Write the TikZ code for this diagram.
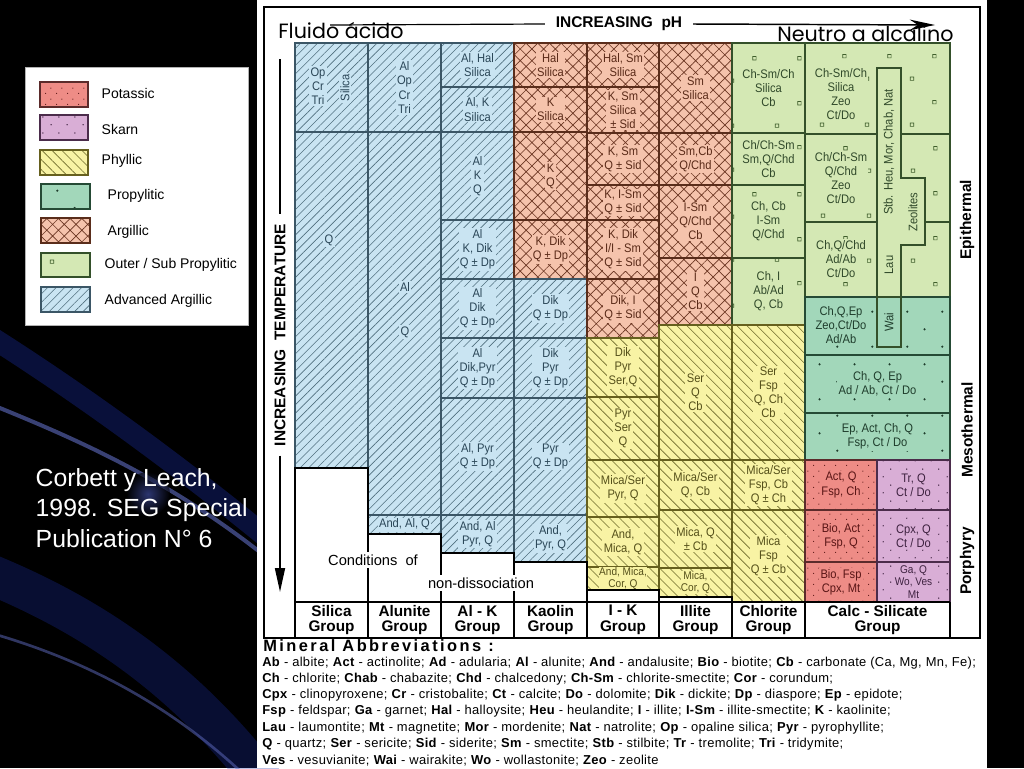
\documentclass[tikz,border=0pt]{standalone}
\usepackage{fontspec}
\setmainfont{Liberation Sans}
\newfontfamily\cellfont[FakeStretch=0.9]{Liberation Sans}
\newfontfamily\slidefont{Poppins}
\newfontfamily\abbrfont[LetterSpace=2.5]{Liberation Sans}
\newfontfamily\headfont[LetterSpace=15]{Liberation Sans}
\usetikzlibrary{patterns,patterns.meta,arrows.meta}

\definecolor{aaFill}{HTML}{C9E4F2}\definecolor{aaHatch}{HTML}{50707F}
\definecolor{aaLine}{HTML}{3B5666}\definecolor{aaText}{HTML}{2A4657}
\definecolor{arFill}{HTML}{F5C3AC}\definecolor{arHatch}{HTML}{6B3522}
\definecolor{arLine}{HTML}{5A2D1B}\definecolor{arText}{HTML}{5A2A18}
\definecolor{phFill}{HTML}{F8F3A4}\definecolor{phHatch}{HTML}{6E6A2A}
\definecolor{phLine}{HTML}{66601E}\definecolor{phText}{HTML}{55501A}
\definecolor{opFill}{HTML}{D4E8B4}\definecolor{opMark}{HTML}{3F5F2C}
\definecolor{opLine}{HTML}{34502A}\definecolor{opText}{HTML}{30492A}
\definecolor{prFill}{HTML}{A2D7BA}\definecolor{prMark}{HTML}{1F3D2C}
\definecolor{prLine}{HTML}{254A35}
\definecolor{poFill}{HTML}{EE8C86}\definecolor{poMark}{HTML}{5A1616}
\definecolor{poLine}{HTML}{5B2B2B}
\definecolor{skFill}{HTML}{D9AED6}\definecolor{skMark}{HTML}{3E2240}
\definecolor{skLine}{HTML}{4B2C4B}
\definecolor{streak}{HTML}{1C2FA8}

% marks for the alteration zones
\pgfdeclarepatternformonly{squaremarks}{\pgfqpoint{0pt}{0pt}}{\pgfqpoint{34pt}{34pt}}{\pgfqpoint{34pt}{34pt}}{%
  \pgfsetlinewidth{0.5pt}%
  \pgfpathrectangle{\pgfqpoint{4pt}{5pt}}{\pgfqpoint{2.6pt}{2.6pt}}%
  \pgfpathrectangle{\pgfqpoint{21pt}{22pt}}{\pgfqpoint{2.6pt}{2.6pt}}%
  \pgfusepath{stroke}}
\pgfdeclarepatternformonly{sparsedots}{\pgfqpoint{0pt}{0pt}}{\pgfqpoint{26pt}{26pt}}{\pgfqpoint{26pt}{26pt}}{%
  \pgfpathcircle{\pgfqpoint{4pt}{4pt}}{0.9pt}%
  \pgfpathcircle{\pgfqpoint{17pt}{17pt}}{0.9pt}%
  \pgfusepath{fill}}
\pgfdeclarepatternformonly{densedots}{\pgfqpoint{0pt}{0pt}}{\pgfqpoint{8pt}{8pt}}{\pgfqpoint{8pt}{8pt}}{%
  \pgfpathcircle{\pgfqpoint{2pt}{2pt}}{0.45pt}%
  \pgfpathcircle{\pgfqpoint{6pt}{6pt}}{0.45pt}%
  \pgfusepath{fill}}
\pgfdeclarepatternformonly{middots}{\pgfqpoint{0pt}{0pt}}{\pgfqpoint{12pt}{12pt}}{\pgfqpoint{12pt}{12pt}}{%
  \pgfpathcircle{\pgfqpoint{2.5pt}{2.5pt}}{0.55pt}%
  \pgfpathcircle{\pgfqpoint{8.5pt}{8.5pt}}{0.55pt}%
  \pgfusepath{fill}}

\tikzset{
  zone/.style={line width=1.7pt},
  advarg/.style={zone, draw=aaLine, preaction={fill=aaFill}, pattern={Lines[angle=45,distance=4.5pt,line width=.45pt]}, pattern color=aaHatch},
  argil/.style={zone, draw=arLine, preaction={fill=arFill}, pattern={Hatch[angle=45,distance=6.2pt,line width=.5pt]}, pattern color=arHatch},
  phyl/.style={zone, draw=phLine, preaction={fill=phFill}, pattern={Lines[angle=-45,distance=5.3pt,line width=.45pt]}, pattern color=phHatch},
  outprop/.style={zone, draw=opLine, preaction={fill=opFill}, pattern=squaremarks, pattern color=opMark},
  prop/.style={zone, draw=prLine, preaction={fill=prFill}, pattern=sparsedots, pattern color=prMark},
  potas/.style={zone, draw=poLine, preaction={fill=poFill}, pattern=densedots, pattern color=poMark},
  skarn/.style={zone, draw=skLine, preaction={fill=skFill}, pattern=middots, pattern color=skMark},
  cell txt/.style={font=\cellfont\fontsize{9.3}{10.6}\selectfont, align=center, inner sep=1pt},
  advarg txt/.style={cell txt, text=aaText, fill=aaFill},
  argil txt/.style={cell txt, text=arText, fill=arFill},
  phyl txt/.style={cell txt, text=phText, fill=phFill},
  outprop txt/.style={cell txt, text=opText, fill=opFill},
  prop txt/.style={cell txt, text=prMark, fill=prFill},
  potas txt/.style={cell txt, text=poMark, fill=poFill},
  skarn txt/.style={cell txt, text=skMark, fill=skFill},
  tight/.style={font=\cellfont\fontsize{8.4}{9.2}\selectfont, inner sep=.3pt},
  nondis/.style={fill=white, draw=black, line width=1.7pt},
  hdr/.style={font=\bfseries\fontsize{11.6}{13}\selectfont},
  grp/.style={font=\bfseries\fontsize{11.5}{11.8}\selectfont, align=center, inner sep=1pt},
  keytxt/.style={anchor=west, font=\fontsize{10.5}{12}\selectfont},
  abbr/.style={anchor=west, font=\abbrfont\fontsize{9.7}{11}\selectfont, inner sep=0pt},
}

% zone box with its label in the middle
\newcommand\zonecell[7]{%
  \path[#1] (#2,#3) rectangle (#4,#5);
  \node[#1 txt] (#6) at ({(#2+#4)/2},{(#3+#5)/2}) {#7};}
\newcommand\ab[2]{\textbf{#1} - #2}

\begin{document}
\begin{tikzpicture}[x=0.75pt,y=-0.75pt]
\useasboundingbox (0,0) rectangle (1024,768);

% slide background
\fill[black] (0,0) rectangle (1024,768);
\draw[line width=16pt, streak, opacity=.35] (-20,330) .. controls (60,380) and (160,450) .. (270,540);
\draw[line width=3pt, streak!70!white, opacity=.6] (-20,400) .. controls (80,440) and (170,480) .. (270,560);
\draw[line width=30pt, streak, opacity=.3] (-20,570) .. controls (80,610) and (180,670) .. (270,790);
\draw[line width=2pt, streak!70!white, opacity=.5] (-20,630) .. controls (90,660) and (180,710) .. (260,790);
\shade[inner color=streak!80!white, outer color=black, opacity=.6] (148,494) circle (22);

% white sheet
\fill[white] (257,0) rectangle (987,768);

% legend
\draw[gray!60, fill=white] (25,67) rectangle (248,325);
\path[potas, line width=1pt] (40,82) rectangle (88,107);
\node[keytxt] (keyPo) at (97,93) {Potassic};
\path[skarn, line width=1pt] (40,115) rectangle (88,140);
\node[keytxt] (keySk) at (97,129) {Skarn};
\path[phyl, line width=1pt] (40,150) rectangle (88,175);
\node[keytxt] (keyPh) at (97,161) {Phyllic};
\path[prop, line width=1pt] (41,184) rectangle (90,209);
\node[keytxt] (keyPr) at (103,196) {Propylitic};
\path[argil, line width=1pt] (41,218) rectangle (90,243);
\node[keytxt] (keyAr) at (103,232) {Argillic};
\path[outprop, line width=1pt] (41,253) rectangle (90,277);
\node[keytxt] (keyOp) at (100,265) {Outer / Sub Propylitic};
\path[advarg, line width=1pt] (41,287) rectangle (90,312);
\node[keytxt] (keyAa) at (100,301) {Advanced Argillic};

% citation
\node[anchor=west, text=white, align=left, font=\fontsize{18.6}{23}\selectfont] (cite) at (31,508)
  {Corbett y Leach,\\1998. SEG Special\\Publication N° 6};

% silica group
\path[advarg] (295,43) rectangle (368,132);
\node[advarg txt] (silOp) at (318,86) {Op\\Cr\\Tri};
\node[advarg txt, rotate=90] (silSi) at (345,88) {Silica};
\path[advarg] (295,132) rectangle (368,468);
\node[advarg txt] (silQ) at (329,240) {Q};

% alunite group
\zonecell{advarg}{368}{43}{441}{132}{aluA}{Al\\Op\\Cr\\Tri}
\path[advarg] (368,132) rectangle (441,515);
\node[advarg txt] (aluAl) at (405,287) {Al};
\node[advarg txt] (aluQ) at (405,332) {Q};
\zonecell{advarg}{368}{515}{441}{534}{aluB}{And, Al, Q}

% Al-K group
\zonecell{advarg}{441}{43}{514}{87}{akA}{Al, Hal\\Silica}
\zonecell{advarg}{441}{87}{514}{132}{akB}{Al, K\\Silica}
\zonecell{advarg}{441}{132}{514}{220}{akC}{Al\\K\\Q}
\zonecell{advarg}{441}{220}{514}{279}{akD}{Al\\K, Dik\\Q ± Dp}
\zonecell{advarg}{441}{279}{514}{338}{akE}{Al\\Dik\\Q ± Dp}
\zonecell{advarg}{441}{338}{514}{398}{akF}{Al\\Dik,Pyr\\Q ± Dp}
\zonecell{advarg}{441}{398}{514}{515}{akG}{Al, Pyr\\Q ± Dp}
\zonecell{advarg}{441}{515}{514}{553}{akH}{And, Al\\Pyr, Q}

% kaolin group
\zonecell{argil}{514}{43}{587}{87}{kaA}{Hal\\Silica}
\zonecell{argil}{514}{87}{587}{132}{kaB}{K\\Silica}
\zonecell{argil}{514}{132}{587}{220}{kaC}{K\\Q}
\zonecell{argil}{514}{220}{587}{279}{kaD}{K, Dik\\Q ± Dp}
\zonecell{advarg}{514}{279}{587}{338}{kaE}{Dik\\Q ± Dp}
\zonecell{advarg}{514}{338}{587}{398}{kaF}{Dik\\Pyr\\Q ± Dp}
\zonecell{advarg}{514}{398}{587}{515}{kaG}{Pyr\\Q ± Dp}
\zonecell{advarg}{514}{515}{587}{562}{kaH}{And,\\Pyr, Q}

% I-K group
\zonecell{argil}{587}{43}{659}{87}{ikA}{Hal, Sm\\Silica}
\zonecell{argil}{587}{87}{659}{133}{ikB}{K, Sm\\Silica\\± Sid}
\zonecell{argil}{587}{133}{659}{185}{ikC}{K, Sm\\Q ± Sid}
\zonecell{argil}{587}{185}{659}{220}{ikD}{K, I-Sm\\Q ± Sid}
\zonecell{argil}{587}{220}{659}{279}{ikE}{K, Dik\\I/I - Sm\\Q ± Sid}
\zonecell{argil}{587}{279}{659}{338}{ikF}{Dik, I\\Q ± Sid}
\zonecell{phyl}{587}{338}{659}{397}{ikG}{Dik\\Pyr\\Ser,Q}
\zonecell{phyl}{587}{397}{659}{460}{ikH}{Pyr\\Ser\\Q}
\zonecell{phyl}{587}{460}{659}{517}{ikI}{Mica/Ser\\Pyr, Q}
\zonecell{phyl}{587}{517}{659}{567}{ikJ}{And,\\Mica, Q}
\path[phyl] (587,567) rectangle (659,590);
\node[phyl txt, tight] (ikK) at (623,578.5) {And, Mica,\\Cor, Q};

% illite group
\zonecell{argil}{659}{43}{732}{133}{ilA}{Sm\\Silica}
\zonecell{argil}{659}{133}{732}{185}{ilB}{Sm,Cb\\Q/Chd}
\zonecell{argil}{659}{185}{732}{258}{ilC}{I-Sm\\Q/Chd\\Cb}
\zonecell{argil}{659}{258}{732}{325}{ilD}{I\\Q\\Cb}
\zonecell{phyl}{659}{325}{732}{460}{ilE}{Ser\\Q\\Cb}
\zonecell{phyl}{659}{460}{732}{510}{ilF}{Mica/Ser\\Q, Cb}
\zonecell{phyl}{659}{510}{732}{568}{ilG}{Mica, Q\\± Cb}
\path[phyl] (659,568) rectangle (732,597);
\node[phyl txt, tight] (ilH) at (695.5,582.5) {Mica,\\Cor, Q};

% chlorite group
\zonecell{outprop}{732}{43}{805}{133}{chA}{Ch-Sm/Ch\\Silica\\Cb}
\zonecell{outprop}{732}{133}{805}{185}{chB}{Ch/Ch-Sm\\Sm,Q/Chd\\Cb}
\zonecell{outprop}{732}{185}{805}{258}{chC}{Ch, Cb\\I-Sm\\Q/Chd}
\zonecell{outprop}{732}{258}{805}{325}{chD}{Ch, I\\Ab/Ad\\Q, Cb}
\zonecell{phyl}{732}{325}{805}{460}{chE}{Ser\\Fsp\\Q, Ch\\Cb}
\zonecell{phyl}{732}{460}{805}{510}{chF}{Mica/Ser\\Fsp, Cb\\Q ± Ch}
\zonecell{phyl}{732}{510}{805}{602}{chG}{Mica\\Fsp\\Q ± Cb}

% calc-silicate group
\path[outprop] (805,43) rectangle (950,134);
\node[outprop txt] (csA) at (841,94) {Ch-Sm/Ch\\Silica\\Zeo\\Ct/Do};
\path[outprop] (805,134) rectangle (877,222);
\node[outprop txt] (csB) at (841,178) {Ch/Ch-Sm\\Q/Chd\\Zeo\\Ct/Do};
\path[outprop] (877,134) rectangle (950,222);
\path[outprop] (805,222) rectangle (877,297);
\node[outprop txt] (csC) at (841,259) {Ch,Q/Chd\\Ad/Ab\\Ct/Do};
\path[outprop] (877,222) rectangle (950,297);
\path[prop] (805,297) rectangle (950,355);
\node[prop txt] (csD) at (841,325) {Ch,Q,Ep\\Zeo,Ct/Do\\Ad/Ab};
\zonecell{prop}{805}{355}{950}{413}{csE}{Ch, Q, Ep\\Ad / Ab, Ct / Do}
\zonecell{prop}{805}{413}{950}{460}{csF}{Ep, Act, Ch, Q\\Fsp, Ct / Do}
\zonecell{potas}{805}{460}{877}{510}{csG}{Act, Q\\Fsp, Ch}
\zonecell{potas}{805}{510}{877}{562}{csH}{Bio, Act\\Fsp, Q}
\zonecell{potas}{805}{562}{877}{602}{csI}{Bio, Fsp\\Cpx, Mt}
\zonecell{skarn}{877}{460}{950}{510}{csJ}{Tr, Q\\Ct / Do}
\zonecell{skarn}{877}{510}{950}{562}{csK}{Cpx, Q\\Ct / Do}
\path[skarn] (877,562) rectangle (950,602);
\node[skarn txt, tight] (csL) at (913.5,582) {Ga, Q\\Wo, Ves\\Mt};

% zeolite column
\fill[opFill] (877,68) -- (901,68) -- (901,178) -- (925,178) -- (925,245) -- (901,245) -- (901,347) -- (877,347) -- cycle;
\fill[prFill] (877,297) rectangle (901,347);
\draw[opLine, line width=1.7pt] (877,68) -- (901,68) -- (901,178) -- (925,178) -- (925,245) -- (901,245) -- (901,347) -- (877,347) -- cycle;
\draw[opLine, line width=1.7pt] (877,297) -- (901,297);
\node[cell txt, text=opText, rotate=90] (zeoA) at (889,152) {Stb. Heu, Mor, Chab, Nat};
\node[cell txt, text=opText, rotate=90] (zeoB) at (913,212) {Zeolites};
\node[cell txt, text=opText, rotate=90] (zeoC) at (889,265) {Lau};
\node[cell txt, text=prMark, rotate=90] (zeoD) at (889,322) {Wai};

% conditions of non-dissociation
\path[nondis] (295,468) rectangle (368,602);
\path[nondis] (368,534) rectangle (441,602);
\path[nondis] (441,553) rectangle (514,602);
\path[nondis] (514,562) rectangle (587,602);
\path[nondis] (587,590) rectangle (659,602);
\path[nondis] (659,597) rectangle (732,602);
\node[fill=white, inner sep=2pt, font=\fontsize{11}{12}\selectfont] (cond) at (373,560) {Conditions\ \ of};
\node[fill=white, inner sep=2pt, font=\fontsize{11}{12}\selectfont] (nond) at (481,583) {non-dissociation};

% frame and group row
\draw[line width=1.2pt] (264,7) rectangle (980,638);
\draw[line width=1.7pt] (295,602) -- (950,602);
\foreach \gx in {295,368,441,514,587,659,732,805,950}
  \draw[line width=1.5pt] (\gx,602) -- (\gx,638);
\node[grp] (gSil) at (331.5,620) {Silica\\Group};
\node[grp] (gAlu) at (404.5,620) {Alunite\\Group};
\node[grp] (gAlk) at (477.5,620) {Al - K\\Group};
\node[grp] (gKao) at (550.5,620) {Kaolin\\Group};
\node[grp] (gIk) at (623,620) {I - K\\Group};
\node[grp] (gIll) at (695.5,620) {Illite\\Group};
\node[grp] (gChl) at (768.5,620) {Chlorite\\Group};
\node[grp] (gCal) at (877.5,620) {Calc - Silicate\\Group};

% axes
\coordinate (phL) at (330,25);
\coordinate (phR) at (935,25);
\node[hdr, inner sep=8pt] (phLbl) at (619,24) {INCREASING\ \ pH};
\draw[line width=.9pt] (phL) -- (phLbl.west);
\draw[line width=1.1pt, -{Stealth[length=19pt,width=8pt]}] (phLbl.east) -- (phR);
\node[anchor=west, font=\slidefont\fontsize{15.5}{16}\selectfont, inner sep=0pt] (acid) at (278,31) {Fluido ácido};
\node[anchor=west, font=\slidefont\fontsize{15.5}{16}\selectfont, inner sep=0pt] (alk) at (777,34) {Neutro a alcalino};

\coordinate (tTop) at (280,59);
\coordinate (tBot) at (280,592);
\node[hdr, rotate=90, inner sep=7pt] (tLbl) at (280,335) {INCREASING\ \ TEMPERATURE};
\draw[line width=1.3pt] (tTop) -- (tLbl.east);
\draw[line width=1.3pt, -{Triangle[length=18pt,width=7.5pt]}] (tLbl.west) -- (tBot);

\node[hdr, rotate=90] (epi) at (967,220) {Epithermal};
\node[hdr, rotate=90] (meso) at (967,430) {Mesothermal};
\node[hdr, rotate=90] (porph) at (967,561) {Porphyry};

% abbreviations
\node[anchor=west, inner sep=0pt, font=\headfont\bfseries\fontsize{12.3}{13}\selectfont] (abbrHead) at (263,646) {Mineral Abbreviations :};
\node[abbr] (abbrA) at (262,663) {\ab{Ab}{albite}; \ab{Act}{actinolite}; \ab{Ad}{adularia}; \ab{Al}{alunite}; \ab{And}{andalusite}; \ab{Bio}{biotite}; \ab{Cb}{carbonate (Ca, Mg, Mn, Fe)};};
\node[abbr] (abbrB) at (262,679.2) {\ab{Ch}{chlorite}; \ab{Chab}{chabazite}; \ab{Chd}{chalcedony}; \ab{Ch-Sm}{chlorite-smectite}; \ab{Cor}{corundum};};
\node[abbr] (abbrC) at (262,695.4) {\ab{Cpx}{clinopyroxene}; \ab{Cr}{cristobalite}; \ab{Ct}{calcite}; \ab{Do}{dolomite}; \ab{Dik}{dickite}; \ab{Dp}{diaspore}; \ab{Ep}{epidote};};
\node[abbr] (abbrD) at (262,711.6) {\ab{Fsp}{feldspar}; \ab{Ga}{garnet}; \ab{Hal}{halloysite}; \ab{Heu}{heulandite}; \ab{I}{illite}; \ab{I-Sm}{illite-smectite}; \ab{K}{kaolinite};};
\node[abbr] (abbrE) at (262,727.8) {\ab{Lau}{laumontite}; \ab{Mt}{magnetite}; \ab{Mor}{mordenite}; \ab{Nat}{natrolite}; \ab{Op}{opaline silica}; \ab{Pyr}{pyrophyllite};};
\node[abbr] (abbrF) at (262,744) {\ab{Q}{quartz}; \ab{Ser}{sericite}; \ab{Sid}{siderite}; \ab{Sm}{smectite}; \ab{Stb}{stilbite}; \ab{Tr}{tremolite}; \ab{Tri}{tridymite};};
\node[abbr] (abbrG) at (262,760.2) {\ab{Ves}{vesuvianite}; \ab{Wai}{wairakite}; \ab{Wo}{wollastonite}; \ab{Zeo}{zeolite}};
\end{tikzpicture}
\end{document}
